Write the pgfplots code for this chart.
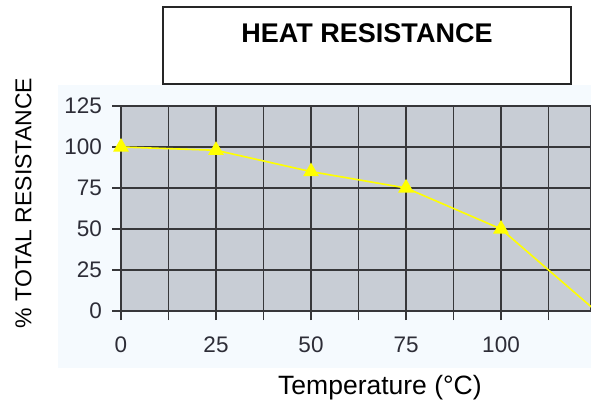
\documentclass[border=0pt]{standalone}
\usepackage{pgfplots}
\pgfplotsset{compat=1.18}
\usepackage{fontspec}
\setmainfont{Liberation Sans}
\definecolor{plotbg}{RGB}{200,205,213}
\definecolor{outerbg}{RGB}{245,250,254}
\definecolor{gridc}{RGB}{55,55,58}
\definecolor{tickc}{RGB}{45,45,55}
\definecolor{lineyellow}{RGB}{255,255,0}
\begin{document}
\begin{tikzpicture}
\useasboundingbox (0,0) rectangle (591pt,400pt);
\fill[outerbg] (58pt,32pt) rectangle (591pt,315pt);
\draw[line width=1.3pt, draw=black!85, fill=white] (163pt,316pt) rectangle (571pt,393pt);
\node[anchor=base, inner sep=0pt, font=\fontsize{27}{30}\selectfont\bfseries] at (367pt,357.3pt) {HEAT RESISTANCE};
\node[anchor=base west, inner sep=0pt, font=\fontsize{26.5}{30}\selectfont] at (278pt,6pt) {Temperature (°C)};
\node[rotate=90, inner sep=0pt, font=\fontsize{23}{27}\selectfont] at (23.5pt,197pt) {\% TOTAL RESISTANCE};
\begin{axis}[
  at={(121pt,89pt)}, anchor=south west,
  scale only axis, width=470pt, height=205pt,
  xmin=0, xmax=123.68, ymin=0, ymax=125,
  xtick={0,25,50,75,100},
  minor xtick={12.5,37.5,62.5,87.5,112.5},
  ytick={0,25,50,75,100,125},
  xtick pos=bottom, ytick pos=left,
  tick align=outside,
  major tick length=9pt, minor tick length=9pt,
  grid=both,
  major grid style={gridc, line width=1.6pt},
  minor grid style={gridc, line width=1.6pt},
  every tick/.style={gridc, line width=1.3pt},
  minor tick style={gridc, line width=1.3pt},
  axis line style={gridc, line width=1.8pt},
  axis background/.style={fill=plotbg},
  /pgf/number format/assume math mode=true,
  ticklabel style={font=\fontsize{22.5}{26}\selectfont, text=tickc, inner sep=0pt},
  xticklabel style={anchor=north, yshift=-17pt},
  yticklabel style={anchor=east, xshift=-10pt},
  clip marker paths=false,
]
\addplot[color=lineyellow, line width=1.6pt, mark=triangle*, mark size=7.5pt,
  mark options={fill=lineyellow, draw=lineyellow}]
  coordinates {(0,100) (25,98) (50,85) (75,75) (100,50) (125,0)};
\end{axis}
\end{tikzpicture}
\end{document}
